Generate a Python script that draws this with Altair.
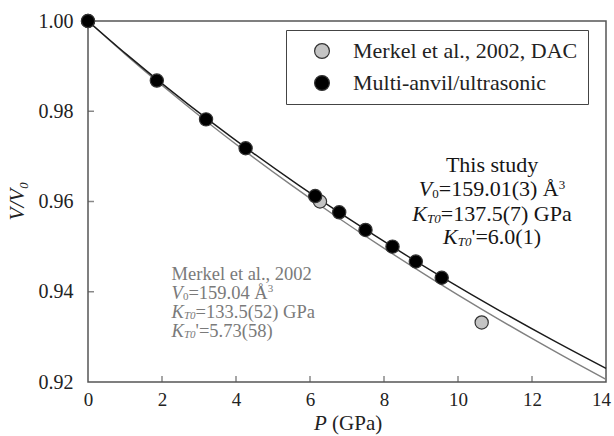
import altair as alt
import pandas as pd

# ---------------- data ----------------
# fitted EOS curves
P_THIS = [0, 1.052, 2.146, 3.283, 4.464, 5.690, 6.962, 8.280, 9.646, 11.060, 12.524, 14.0]
V_THIS = [1.0, 0.99255, 0.98519, 0.97791, 0.97073, 0.96364, 0.95663, 0.94971, 0.94287, 0.93611, 0.92943, 0.92300]
P_MERKEL = [0, 1.020, 2.080, 3.178, 4.317, 5.498, 6.720, 7.985, 9.294, 10.647, 12.045, 13.490, 14.0]
V_MERKEL = [1.0, 0.99255, 0.98519, 0.97791, 0.97073, 0.96364, 0.95663, 0.94971, 0.94287, 0.93611, 0.92943, 0.92283, 0.92060]

# measured points
DAC_P = [0, 6.27, 10.64]
DAC_V = [1.000, 0.9600, 0.9332]
MA_P = [0, 1.86, 3.19, 4.26, 6.14, 6.79, 7.50, 8.23, 8.86, 9.56]
MA_V = [1.000, 0.9868, 0.9782, 0.9718, 0.9612, 0.9576, 0.9537, 0.9500, 0.9467, 0.9431]

SERIES = ["Merkel et al., 2002, DAC", "Multi-anvil/ultrasonic"]
X_TICKS = [0, 2, 4, 6, 8, 10, 12, 14]
Y_TICKS = [0.92, 0.94, 0.96, 0.98, 1.00]
INNER_X_TICKS = [2, 4, 6, 8, 10, 12]
INNER_Y_TICKS = [0.94, 0.96, 0.98]

# ---------------- layout ----------------
W, H = 518, 361
FONT = "Liberation Serif"

xs = alt.Scale(domain=[0, 14], nice=False, zero=False)
ys = alt.Scale(domain=[0.92, 1.0], nice=False, zero=False)
x_axis = alt.Axis(values=X_TICKS, format="d", ticks=False, domain=False, grid=False,
                  labelFont=FONT, labelFontSize=19, labelColor="#222", labelPadding=8,
                  labelFlush=False, labelOverlap=False,
                  labelOffset={"condition": {"test": "datum.value == 14", "value": -5}, "value": 0})
y_axis = alt.Axis(values=Y_TICKS, format=".2f", ticks=False, domain=False, grid=False,
                  labelFont=FONT, labelFontSize=20, labelColor="#222", labelPadding=15,
                  labelFlush=False, labelOverlap=False)
X_ENC = alt.X("x:Q", scale=xs, axis=x_axis, title=None)
Y_ENC = alt.Y("y:Q", scale=ys, axis=y_axis, title=None)

layers = []

# curves
this_df = pd.DataFrame({"x": P_THIS, "y": V_THIS})
merkel_df = pd.DataFrame({"x": P_MERKEL, "y": V_MERKEL})
layers.append(alt.Chart(merkel_df).mark_line(color="#808080", strokeWidth=1.4, interpolate="monotone")
              .encode(x=X_ENC, y=Y_ENC))
layers.append(alt.Chart(this_df).mark_line(color="#1a1a1a", strokeWidth=1.4, interpolate="monotone")
              .encode(x=X_ENC, y=Y_ENC))

# points
pts = pd.DataFrame({
    "x": DAC_P + MA_P,
    "y": DAC_V + MA_V,
    "series": [SERIES[0]] * len(DAC_P) + [SERIES[1]] * len(MA_P),
})
legend = alt.Legend(title=None, orient="none", legendX=198, legendY=9, direction="vertical",
                    labelFont=FONT, labelFontSize=22, labelColor="#222", labelLimit=400,
                    symbolType="circle", symbolSize=220, symbolStrokeColor="#333",
                    symbolStrokeWidth=1.2, padding=10, rowPadding=10, symbolOffset=15,
                    labelOffset=20, strokeColor="#444", fillColor="white")
layers.append(alt.Chart(pts).mark_circle(size=175, opacity=1, stroke="#333", strokeWidth=1.2)
              .encode(x=X_ENC, y=Y_ENC,
                      fill=alt.Fill("series:N", scale=alt.Scale(domain=SERIES, range=["#c4c4c4", "#000000"]),
                                    legend=legend)))

# inward ticks
layers.append(alt.Chart(pd.DataFrame({"x": INNER_X_TICKS}))
              .mark_tick(orient="vertical", size=6, thickness=1.5, color="#555")
              .encode(x=X_ENC, y=alt.value(H - 3)))
layers.append(alt.Chart(pd.DataFrame({"y": INNER_Y_TICKS}))
              .mark_tick(orient="horizontal", size=6, thickness=1.5, color="#555")
              .encode(y=Y_ENC, x=alt.value(3)))

# ---------------- annotations ----------------
W_REG = {c: 0.5 for c in "0123456789"}
W_REG.update({".": 0.25, ",": 0.25, " ": 0.25, "(": 0.333, ")": 0.333, "=": 0.564, "'": 0.18,
              "Å": 0.722, "G": 0.722, "P": 0.556, "a": 0.444, "M": 0.889, "e": 0.444, "r": 0.333,
              "k": 0.5, "l": 0.278, "t": 0.278, "T": 0.611, "h": 0.5, "i": 0.278, "s": 0.389,
              "u": 0.5, "d": 0.5, "y": 0.5})
W_IT = {"V": 0.611, "K": 0.667, "T": 0.556, "0": 0.5, "P": 0.611}


def seg_style(kind, M):
    S = round(M * 0.6)
    if kind == "reg":
        return M, False, 0.0
    if kind == "it":
        return M, True, 0.0
    if kind == "sub":
        return S, False, 0.3 * M + 0.1 * M - 0.3 * S
    if kind == "subit":
        return S, True, 0.3 * M + 0.1 * M - 0.3 * S
    if kind == "sup":
        return S, False, -0.3 * S
    return M, False, 0.0


def seg_width(text, size, italic):
    table = W_IT if italic else W_REG
    return sum(table.get(c, W_REG.get(c, 0.5)) for c in text) * size


def text_line(ax, ay, segs, M, color, center):
    widths = []
    for text, kind in segs:
        size, italic, _ = seg_style(kind, M)
        widths.append(seg_width(text, size, italic))
    total = sum(widths)
    dx = -total / 2 if center else 0.0
    out = []
    for (text, kind), w in zip(segs, widths):
        size, italic, dy = seg_style(kind, M)
        out.append(alt.Chart(pd.DataFrame({"x": [ax], "y": [ay]}))
                   .mark_text(text=text, dx=dx, dy=dy, fontSize=size, font=FONT,
                              fontStyle="italic" if italic else "normal",
                              align="left", baseline="middle", color=color)
                   .encode(x=X_ENC, y=Y_ENC))
        dx += w
    return out


THIS_X = 10.92
THIS_Y = [0.9681, 0.9628, 0.9572, 0.9521]
THIS_LINES = [
    [("This study", "reg")],
    [("V", "it"), ("0", "sub"), ("=159.01(3) Å", "reg"), ("3", "sup")],
    [("K", "it"), ("T0", "subit"), ("=137.5(7) GPa", "reg")],
    [("K", "it"), ("T0", "subit"), ("'=6.0(1)", "reg")],
]
for yv, segs in zip(THIS_Y, THIS_LINES):
    layers += text_line(THIS_X, yv, segs, 22, "#151515", True)

MERKEL_X = 2.26
MERKEL_Y = [0.9440, 0.9398, 0.9356, 0.9314]
MERKEL_LINES = [
    [("Merkel et al., 2002", "reg")],
    [("V", "it"), ("0", "sub"), ("=159.04 Å", "reg"), ("3", "sup")],
    [("K", "it"), ("T0", "subit"), ("=133.5(52) GPa", "reg")],
    [("K", "it"), ("T0", "subit"), ("'=5.73(58)", "reg")],
]
for yv, segs in zip(MERKEL_Y, MERKEL_LINES):
    layers += text_line(MERKEL_X, yv, segs, 18.5, "#7a7a7a", False)

# axis titles
title_src = pd.DataFrame({"a": [0]})
layers.append(alt.Chart(title_src).mark_text(text="P", font=FONT, fontSize=21, fontStyle="italic",
                                             align="left", baseline="middle", color="#222")
              .encode(x=alt.value(226), y=alt.value(403)))
layers.append(alt.Chart(title_src).mark_text(text="(GPa)", font=FONT, fontSize=21,
                                             align="left", baseline="middle", color="#222")
              .encode(x=alt.value(226 + 0.861 * 21), y=alt.value(403)))
layers.append(alt.Chart(title_src).mark_text(text="V/V₀", font=FONT, fontSize=21, fontStyle="italic",
                                             angle=270, align="center", baseline="middle", color="#222")
              .encode(x=alt.value(-70), y=alt.value(180)))

chart = alt.layer(*layers).properties(
    width=W, height=H,
    autosize=alt.AutoSizeParams(type="none"),
    padding={"left": 88, "top": 21, "right": 8, "bottom": 54},
    background="white",
).configure_view(stroke="#555", strokeWidth=1.5)

chart.save("out.html", embed_options={"renderer": "svg", "actions": False})
